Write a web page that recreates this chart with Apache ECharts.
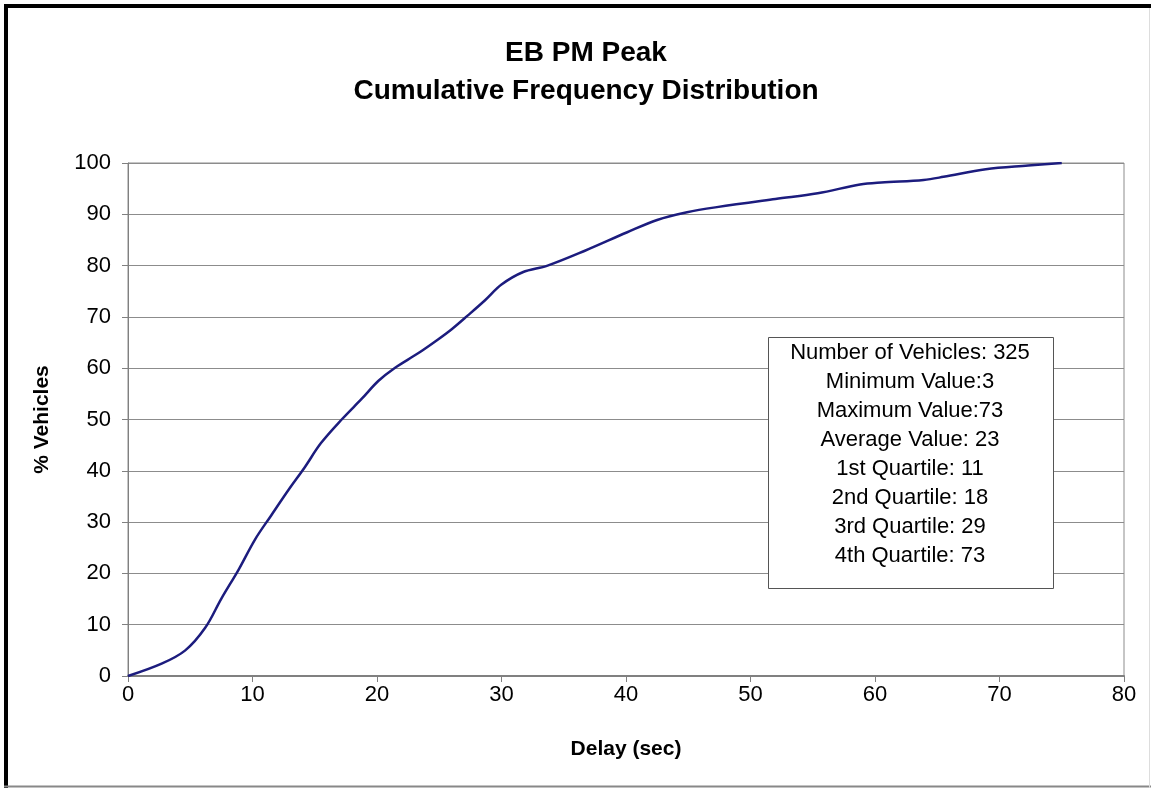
<!DOCTYPE html>
<html>
<head>
<meta charset="utf-8">
<script src="https://cdn.jsdelivr.net/npm/echarts@6/dist/echarts.min.js"></script>
<style>
html,body{margin:0;padding:0;background:#fff;}
#chart{width:1151px;height:788px;}
</style>
</head>
<body>
<div id="chart"></div>
<script>
const titleLines = ['EB PM Peak', 'Cumulative Frequency Distribution'];
const xAxisName = 'Delay (sec)';
const yAxisName = '% Vehicles';
const delaySec = [0, 2.7, 4.6, 6.2, 7.5, 8.9, 10.2, 11.5, 12.9, 14.2, 15.5, 17.2, 18.8, 20.1, 21.4, 23.3, 24.9, 26.0, 27.3, 28.7, 30.0, 31.7, 33.7, 36.7, 40.1, 42.5, 44.9, 47.3, 52.0, 55.4, 58.8, 60.5, 63.9, 65.5, 68.9, 72.3, 75.0];
const pctVehicles = [0, 2.4, 5.0, 9.4, 15.1, 20.8, 26.6, 31.3, 36.3, 40.7, 45.4, 50.1, 54.1, 57.5, 60.0, 62.9, 65.6, 67.6, 70.3, 73.3, 76.3, 78.7, 80.0, 82.9, 86.5, 88.9, 90.4, 91.4, 93.0, 94.1, 95.8, 96.2, 96.7, 97.3, 98.8, 99.5, 100];
const statsLines = ['Number of Vehicles: 325', 'Minimum Value:3', 'Maximum Value:73', 'Average Value: 23', '1st Quartile: 11', '2nd Quartile: 18', '3rd Quartile: 29', '4th Quartile: 73'];

const font = '"Liberation Sans", Arial, sans-serif';
const chart = echarts.init(document.getElementById('chart'));
const seriesData = delaySec.map((x, i) => [x, pctVehicles[i]]);

chart.setOption({
  backgroundColor: '#ffffff',
  animation: false,
  title: {
    text: titleLines.join('\n'),
    left: 581, top: 29, textAlign: 'center',
    textStyle: {fontFamily: font, fontSize: 28, fontWeight: 'bold', color: '#000', lineHeight: 38}
  },
  grid: {left: 128, top: 163, right: 27, bottom: 112, show: true, borderColor: '#8c8c8c', borderWidth: 1, backgroundColor: 'transparent'},
  xAxis: {
    type: 'value', min: 0, max: 80, interval: 10,
    name: xAxisName, nameLocation: 'middle', nameGap: 63,
    nameTextStyle: {fontFamily: font, fontSize: 21, fontWeight: 'bold', color: '#000'},
    axisLine: {show: true, lineStyle: {color: '#808080', width: 2}},
    axisTick: {show: true, length: 6, lineStyle: {color: '#808080'}},
    axisLabel: {fontFamily: font, fontSize: 22, color: '#000', margin: 8},
    splitLine: {show: false}
  },
  yAxis: {
    type: 'value', min: 0, max: 100, interval: 10,
    name: yAxisName, nameLocation: 'middle', nameGap: 75, nameRotate: 90,
    nameTextStyle: {fontFamily: font, fontSize: 21, fontWeight: 'bold', color: '#000'},
    axisLine: {show: true, lineStyle: {color: '#808080', width: 1}},
    axisTick: {show: true, length: 6, lineStyle: {color: '#808080'}},
    axisLabel: {fontFamily: font, fontSize: 22, color: '#000', margin: 17},
    splitLine: {show: true, lineStyle: {color: '#8c8c8c', width: 1}}
  },
  series: [{
    type: 'line', data: seriesData, showSymbol: false, smooth: 0.35,
    lineStyle: {color: '#1c1c7e', width: 2.5}
  }],
  graphic: [
    {type: 'line', shape: {x1: 4, y1: 6, x2: 1151, y2: 6}, style: {stroke: '#000', lineWidth: 4}},
    {type: 'line', shape: {x1: 6, y1: 4, x2: 6, y2: 788}, style: {stroke: '#000', lineWidth: 4}},
    {type: 'line', shape: {x1: 4, y1: 786.5, x2: 1151, y2: 786.5}, style: {stroke: '#888', lineWidth: 2}},
    {type: 'line', shape: {x1: 1149.5, y1: 8, x2: 1149.5, y2: 788}, style: {stroke: '#ddd', lineWidth: 1}},
    {type: 'rect', shape: {x: 768.5, y: 337.5, width: 285, height: 251}, style: {fill: '#fff', stroke: '#555', lineWidth: 1}, z: 100},
    {type: 'text', x: 910, y: 352, z: 101,
     style: {text: statsLines.join('\n'), fontFamily: font, fontSize: 22, lineHeight: 29, fill: '#000', align: 'center', verticalAlign: 'top', y: -14}}
  ]
});
</script>
</body>
</html>
